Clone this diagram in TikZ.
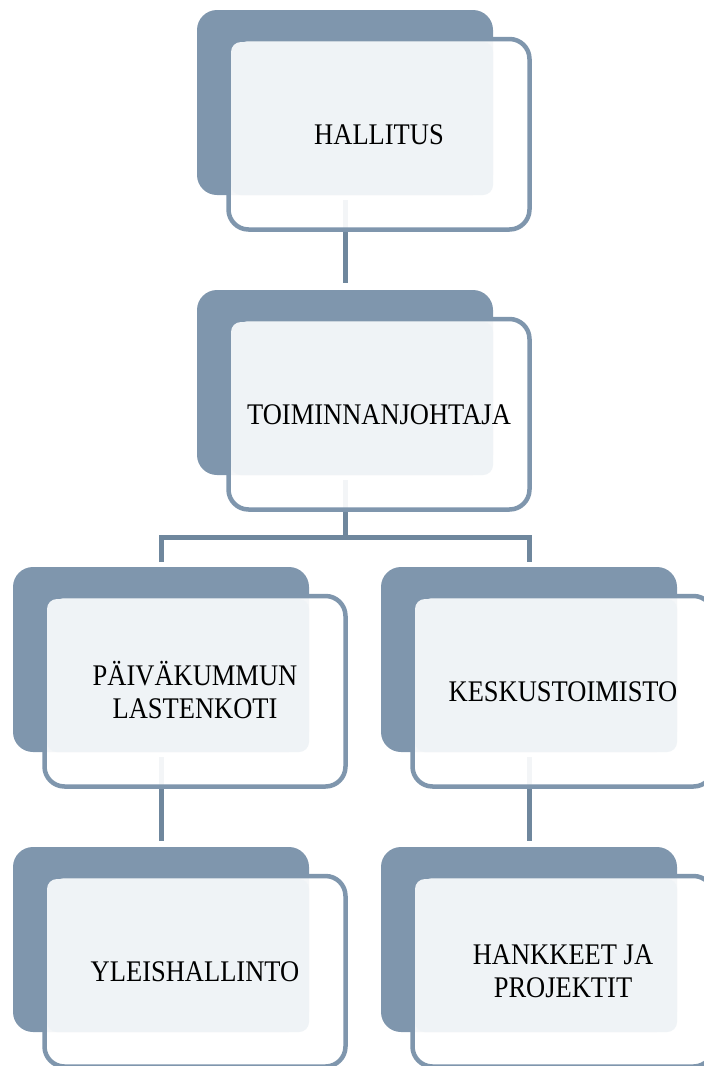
\documentclass[tikz,border=0pt]{standalone}
\usepackage{fontspec}
\usepackage{graphicx}
\setmainfont{Liberation Serif}
\definecolor{darkbox}{HTML}{7F96AD}
\definecolor{lightbox}{HTML}{EFF3F6}
\definecolor{connclr}{HTML}{6F879D}
\pgfdeclarelayer{bg}
\pgfsetlayers{bg,main}
\tikzset{
  backbox/.style={rectangle, fill=darkbox, rounded corners=20pt, inner sep=0pt, outer sep=0pt,
                  minimum width=296pt, minimum height=185pt, anchor=north west},
  framebox/.style={rectangle, draw=darkbox, line width=4.5pt, fill=white, fill opacity=0.92,
                   rounded corners=20pt, inner sep=0pt, outer sep=0pt,
                   minimum width=301pt, minimum height=190.5pt, anchor=north west},
  facebox/.style={rectangle, fill=lightbox, rounded corners=10pt, inner sep=0pt, outer sep=0pt,
                  minimum width=262pt, minimum height=153pt, anchor=north west},
  boxtext/.style={font=\fontsize{26.5}{29.2}\selectfont, text=black, inner sep=0pt, yshift=-3.5pt},
  connline/.style={draw=connclr, line width=5pt, line join=miter}
}
\newcommand\orgunit[4]{%
  \node[backbox] (#1-back) at (#2,#3) {};
  \node[framebox] (#1-frame) at (#2+31.5,#3+29) {};
  \node[facebox] (#1-face) at (#2+34,#3+32) {};
  \node[boxtext] (#1) at (#1-frame.center)
    {\scalebox{1}[1.13]{\begin{tabular}{@{}c@{}}#4\end{tabular}}};
}
\begin{document}
\begin{tikzpicture}[x=1pt,y=-1pt]
\useasboundingbox (0,0) rectangle (704,1066);
\clip (0,0) rectangle (704,1066);
\orgunit{hallitus}{197}{10}{HALLITUS}
\orgunit{toim}{197}{290}{TOIMINNANJOHTAJA}
\orgunit{lasten}{13}{567}{PÄIVÄKUMMUN\\LASTENKOTI}
\orgunit{kesk}{381}{567}{KESKUSTOIMISTO}
\orgunit{yleis}{13}{847}{YLEISHALLINTO}
\orgunit{hank}{381}{847}{HANKKEET JA\\PROJEKTIT}
\coordinate (fork) at (345,537.5);
\begin{pgfonlayer}{bg}
  \draw[connline] ([yshift=-5pt]hallitus-back.south) -- ([yshift=7pt]toim-back.north);
  \draw[connline] ([yshift=-5pt]toim-back.south) -- (fork);
  \draw[connline] ([yshift=5pt]lasten-back.north) |- (fork) -| ([yshift=5pt]kesk-back.north);
  \draw[connline] ([yshift=-5pt]lasten-back.south) -- ([yshift=6pt]yleis-back.north);
  \draw[connline] ([yshift=-5pt]kesk-back.south) -- ([yshift=6pt]hank-back.north);
\end{pgfonlayer}
\end{tikzpicture}
\end{document}
